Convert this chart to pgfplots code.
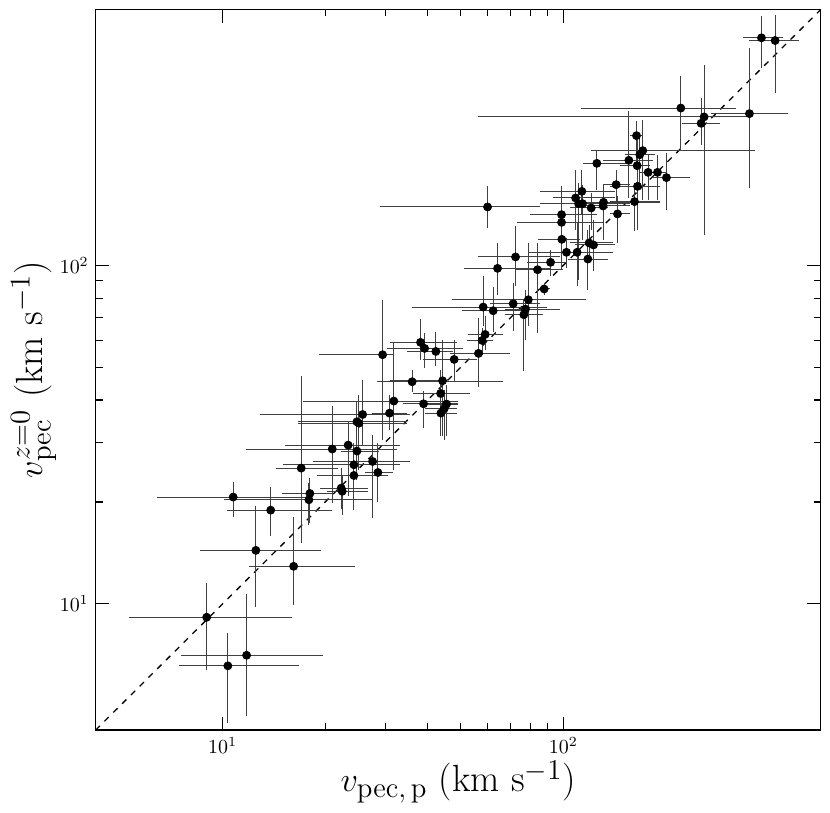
\documentclass[border=0pt]{standalone}
\usepackage{pgfplots}
\pgfplotsset{compat=1.18}
\usepackage{pgfplotstable}
\pgfplotstableread{
x y xlo xhi ylo yhi
8.98 9.13 5.32 15.94 6.38 11.51
10.36 6.56 7.44 16.78 4.46 8.19
11.76 7.05 7.54 19.66 4.67 10.68
12.52 14.39 8.58 19.44 9.82 19.40
16.16 12.91 11.92 24.50 9.91 18.04
13.84 18.92 10.31 20.98 15.89 22.07
10.74 20.68 6.40 17.64 18.04 22.89
17.01 25.18 14.34 21.84 15.12 46.98
18.04 21.19 14.90 21.08 17.32 23.52
17.92 20.30 10.09 27.67 17.12 22.79
20.98 28.67 11.68 32.41 19.85 38.48
23.36 29.45 15.27 33.14 20.76 34.75
24.79 28.28 22.20 28.82 23.25 33.8
24.29 25.76 15.00 33.14 18.96 29.92
27.56 26.34 18.45 35.45 17.92 31.60
28.57 24.44 26.17 31.61 20.06 29.92
24.29 23.95 18.88 30.62 18.96 26.12
22.29 21.98 19.31 26.75 19.09 25.18
22.44 21.51 20.20 26.75 18.33 24.06
24.79 34.51 16.67 34.67 29.31 39.63
25.12 34.17 16.67 34.67 24.89 41.47
25.76 36.27 12.87 35.45 29.17 45.93
29.49 54.45 19.17 31.67 30.54 79.17
31.82 39.74 17.24 49.15 24.89 59.22
30.92 36.61 27.49 34.67 32.68 41.47
36.01 45.31 28.43 66.62 42.13 49.17
44.23 45.62 30.97 45.44 31.23 60.32
43.64 41.84 36.18 53.19 34.99 49.17
38.9 39.01 33.89 49.15 33.06 42.42
45.44 38.93 39.7 49.15 31.23 44.40
44.71 37.71 39.25 48.62 30.54 42.91
43.73 36.61 39.25 48.62 31.23 41.0
38.11 59.22 30.97 48.62 52.63 69.57
39.17 56.85 30.29 50.83 49.84 63.24
42.27 55.7 34.67 47.52 50.29 63.55
47.84 52.74 38.8 55.66 45.40 60.32
56.42 54.95 46.46 69.69 43.72 69.91
57.80 60.03 52.01 62.27 54.45 65.44
58.98 62.52 52.57 66.62 56.34 70.69
58.20 75.34 36.01 89.33 66.03 92.8
62.27 73.47 50.29 78.03 63.39 86.5
71.28 77.05 60.88 85.37 63.82 88.89
76.62 71.51 67.39 87.30 48.61 79.17
77.5 74.32 67.39 97.7 60.32 84.76
78.97 79.17 47.0 117.0 66.03 116.5
59.95 148.8 28.96 85.37 129.0 171.2
72.44 105.9 56.27 97.7 86.7 130.4
64.14 98.0 51.18 91.33 81.9 116.5
84.04 97.1 72.11 99.93 63.12 116.5
91.78 102.1 78.03 102.2 92.8 111.3
87.88 85.17 85.37 91.33 81.9 88.89
98.86 141.2 79.8 125.2 101.7 171.2
98.86 134.0 72.93 130.9 104.0 156.4
99.04 119.4 84.39 111.9 97.1 141.2
102.2 109.3 78.86 140.1 98.4 120.8
109.8 109.3 99.93 140.1 86.7 133.5
118.1 104.4 103.3 135.4 84.76 127.5
119.1 116.5 104.5 140.1 102.6 131.9
122.7 114.9 108.1 141.7 96.0 136.5
108.7 158.2 93.4 141.7 127.5 191.8
113.4 165.5 85.37 141.7 141.2 191.8
110.9 152.2 85.37 156.8 90.7 175.6
113.9 152.2 99.93 141.7 119.1 173.2
120.8 147.8 104.5 135.4 127.5 163.7
131.3 153.6 109.4 192.1 123.3 173.2
130.9 149.8 115.7 156.8 119.1 167.4
143.0 173.2 130.9 156.8 152.9 191.8
165.2 171.2 137.0 192.1 127.5 196.2
161.9 154.3 137.0 192.1 126.0 175.6
144.3 141.9 137.0 156.8 116.5 160.0
125.5 200.2 114.4 153.4 167.4 219.8
155.8 204.4 130.9 183.6 158.2 285.3
164.1 241.7 156.8 171.6 191.8 266.6
171.2 218.3 120.3 364.9 156.4 269.6
167.8 212.4 151.6 185.7 173.2 243.4
164.8 197.1 146.6 179.5 156.4 235.3
177.5 188.3 167.8 192.1 156.4 212.4
189.1 188.3 183.6 200.9 156.4 212.4
200.9 181.7 183.6 235.3 146.1 214.9
221.4 291.6 112.4 322.5 219.8 363.8
259.1 274.6 56.16 352.8 123.3 392.0
253.9 262.9 222.5 288.2 227.4 312.4
352.1 280.8 272.4 458.4 169.3 439.3
381.9 470.2 337.3 441.9 383.3 544.8
418.8 461.7 351.2 490.5 323.2 551.0
}\data
\begin{document}
\begin{tikzpicture}
\begin{axis}[
  scale only axis, width=362.5bp, height=360.35bp,
  xmode=log, ymode=log,
  xmin=4.24, xmax=570, ymin=4.24, ymax=571,
  xtick={10,100}, ytick={10,100},
  tick align=inside,
  major tick length=6.7bp, minor tick length=3.6bp,
  every tick/.style={black, line width=0.6bp},
  axis line style={line width=0.75bp},
  xlabel={$v_{\rm pec,\,p}$ (km s$^{-1}$)},
  ylabel={$v_{\rm pec}^{z=0}$ (km s$^{-1}$)},
  xlabel shift=-3bp, ylabel shift=-5bp,
  label style={font=\fontsize{19}{23}\selectfont},
  tick label style={font=\fontsize{10}{12}\selectfont},
]
\addplot[black, line width=0.65bp, dash pattern=on 3bp off 3.2bp] coordinates {(4.24,4.24) (571,571)};
\addplot[only marks, mark=*, mark size=2bp, black,
  error bars/.cd, x dir=both, x explicit, y dir=both, y explicit, error mark=none,
  error bar style={black!75, line width=0.5bp}]
  table[x=x, y=y,
    x error plus expr=\thisrow{xhi}-\thisrow{x},
    x error minus expr=\thisrow{x}-\thisrow{xlo},
    y error plus expr=\thisrow{yhi}-\thisrow{y},
    y error minus expr=\thisrow{y}-\thisrow{ylo}] {\data};
\end{axis}
\pgfresetboundingbox
\path[use as bounding box] (-47.85bp,-41.5bp) rectangle (367.15bp,365bp);
\end{tikzpicture}
\end{document}
